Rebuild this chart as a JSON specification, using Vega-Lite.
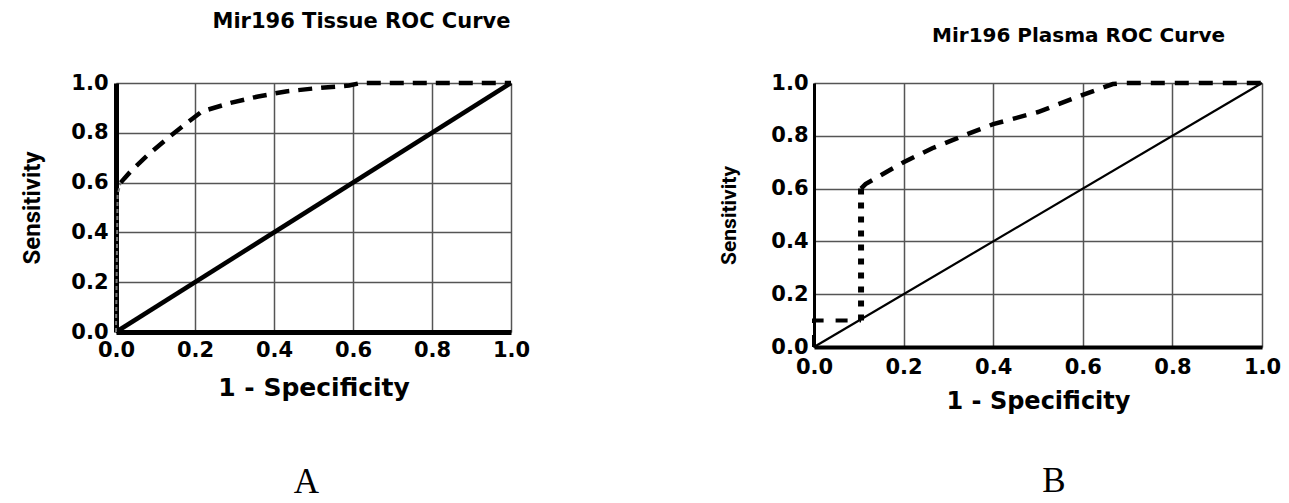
{
  "$schema": "https://vega.github.io/schema/vega-lite/v6.json",
  "background": "white",
  "padding": {"left": 20, "top": 10, "right": 0, "bottom": 0},
  "bounds": "flush",
  "spacing": 303,
  "config": {
    "view": {"stroke": null},
    "axis": {
      "labelFont": "DejaVu Sans", "labelFontWeight": "bold", "labelFontSize": 21, "labelColor": "black",
      "titleFont": "DejaVu Sans", "titleFontWeight": "bold", "titleColor": "black",
      "ticks": false, "tickSize": 0, "labelFlush": false, "labelOverlap": false,
      "gridColor": "#555", "gridWidth": 1.5, "gridOpacity": 1, "domainColor": "black"
    }
  },
  "hconcat": [
    {
      "width": 395, "height": 249,
      "data": {"values": [
        {"seg": "ref", "ord": 1, "fpr": 0, "tpr": 0},
        {"seg": "ref", "ord": 2, "fpr": 1, "tpr": 1},
        {"seg": "steep", "ord": 1, "fpr": 0, "tpr": 0},
        {"seg": "steep", "ord": 2, "fpr": 0.004, "tpr": 0.55},
        {"seg": "steep", "ord": 3, "fpr": 0.012, "tpr": 0.6},
        {"seg": "curve", "ord": 1, "fpr": 0.012, "tpr": 0.6},
        {"seg": "curve", "ord": 2, "fpr": 0.02, "tpr": 0.615},
        {"seg": "curve", "ord": 3, "fpr": 0.04, "tpr": 0.65},
        {"seg": "curve", "ord": 4, "fpr": 0.08, "tpr": 0.71},
        {"seg": "curve", "ord": 5, "fpr": 0.136, "tpr": 0.785},
        {"seg": "curve", "ord": 6, "fpr": 0.18, "tpr": 0.84},
        {"seg": "curve", "ord": 7, "fpr": 0.218, "tpr": 0.886},
        {"seg": "curve", "ord": 8, "fpr": 0.29, "tpr": 0.92},
        {"seg": "curve", "ord": 9, "fpr": 0.36, "tpr": 0.946},
        {"seg": "curve", "ord": 10, "fpr": 0.43, "tpr": 0.966},
        {"seg": "curve", "ord": 11, "fpr": 0.5, "tpr": 0.978},
        {"seg": "curve", "ord": 12, "fpr": 0.59, "tpr": 0.99},
        {"seg": "curve", "ord": 13, "fpr": 0.62, "tpr": 1.0},
        {"seg": "curve", "ord": 14, "fpr": 1, "tpr": 1}
      ]},
      "title": {"text": "A", "orient": "bottom", "frame": "group", "font": "Liberation Serif", "fontSize": 35, "fontWeight": "normal", "color": "black", "offset": 65, "dx": -7},
      "layer": [
        {
          "encoding": {
            "x": {"field": "fpr", "type": "quantitative", "scale": {"domain": [0, 1]},
              "axis": {"title": "1 - Specificity", "values": [0, 0.2, 0.4, 0.6, 0.8, 1], "format": ".1f", "grid": true, "domainWidth": 5, "labelPadding": 7, "titleFontSize": 25, "titlePadding": 15}},
            "y": {"field": "tpr", "type": "quantitative", "scale": {"domain": [0, 1]},
              "axis": {"title": "Sensitivity", "values": [0, 0.2, 0.4, 0.6, 0.8, 1], "format": ".1f", "grid": true, "domainWidth": 5, "labelPadding": 8, "titleFont": "Roboto", "titleFontSize": 24, "titlePadding": 26}},
            "order": {"field": "ord", "type": "quantitative"}
          },
          "layer": [
            {"transform": [{"filter": "datum.seg === 'ref'"}], "mark": {"type": "line", "color": "black", "strokeWidth": 4.5}},
            {"transform": [{"filter": "datum.seg === 'steep'"}], "mark": {"type": "line", "color": "#777", "strokeWidth": 2, "strokeDash": [4, 3]}},
            {"transform": [{"filter": "datum.seg === 'curve'"}], "mark": {"type": "line", "color": "black", "strokeWidth": 4.5, "strokeDash": [14, 9]}}
          ]
        },
        {
          "mark": {"type": "point", "opacity": 0},
          "encoding": {
            "x": {"field": "fpr", "type": "quantitative",
              "axis": {"orient": "top", "title": "Mir196 Tissue ROC Curve", "labels": false, "domain": false, "grid": false, "titleFontSize": 21, "titlePadding": 52, "titleX": 245}},
            "y": {"field": "tpr", "type": "quantitative", "axis": null}
          }
        }
      ],
      "resolve": {"axis": {"x": "independent", "y": "independent"}}
    },
    {
      "width": 448, "height": 264,
      "data": {"values": [
        {"seg": "ref", "ord": 1, "fpr": 0, "tpr": 0},
        {"seg": "ref", "ord": 2, "fpr": 1, "tpr": 1},
        {"seg": "low", "ord": 1, "fpr": 0, "tpr": 0},
        {"seg": "low", "ord": 2, "fpr": 0, "tpr": 0.1},
        {"seg": "low", "ord": 3, "fpr": 0.105, "tpr": 0.1},
        {"seg": "dot", "ord": 1, "fpr": 0.105, "tpr": 0.1},
        {"seg": "dot", "ord": 2, "fpr": 0.105, "tpr": 0.6},
        {"seg": "curve", "ord": 1, "fpr": 0.105, "tpr": 0.6},
        {"seg": "curve", "ord": 2, "fpr": 0.115, "tpr": 0.617},
        {"seg": "curve", "ord": 3, "fpr": 0.2, "tpr": 0.7},
        {"seg": "curve", "ord": 4, "fpr": 0.264, "tpr": 0.753},
        {"seg": "curve", "ord": 5, "fpr": 0.348, "tpr": 0.81},
        {"seg": "curve", "ord": 6, "fpr": 0.4, "tpr": 0.844},
        {"seg": "curve", "ord": 7, "fpr": 0.5, "tpr": 0.89},
        {"seg": "curve", "ord": 8, "fpr": 0.6, "tpr": 0.955},
        {"seg": "curve", "ord": 9, "fpr": 0.633, "tpr": 0.975},
        {"seg": "curve", "ord": 10, "fpr": 0.667, "tpr": 0.996},
        {"seg": "curve", "ord": 11, "fpr": 0.69, "tpr": 1.0},
        {"seg": "curve", "ord": 12, "fpr": 1, "tpr": 1}
      ]},
      "title": {"text": "B", "orient": "bottom", "frame": "group", "font": "Liberation Serif", "fontSize": 35, "fontWeight": "normal", "color": "black", "offset": 51, "dx": 16},
      "layer": [
        {
          "encoding": {
            "x": {"field": "fpr", "type": "quantitative", "scale": {"domain": [0, 1]},
              "axis": {"title": "1 - Specificity", "values": [0, 0.2, 0.4, 0.6, 0.8, 1], "format": ".1f", "grid": true, "domainWidth": 4, "labelPadding": 9, "titleFontSize": 24, "titlePadding": 12}},
            "y": {"field": "tpr", "type": "quantitative", "scale": {"domain": [0, 1]},
              "axis": {"title": "Sensitivity", "values": [0, 0.2, 0.4, 0.6, 0.8, 1], "format": ".1f", "grid": true, "domainWidth": 3, "labelPadding": 6, "titleFont": "Roboto", "titleFontSize": 21, "titlePadding": 31}},
            "order": {"field": "ord", "type": "quantitative"}
          },
          "layer": [
            {"transform": [{"filter": "datum.seg === 'ref'"}], "mark": {"type": "line", "color": "black", "strokeWidth": 2.2}},
            {"transform": [{"filter": "datum.seg === 'low'"}], "mark": {"type": "line", "color": "black", "strokeWidth": 4, "strokeDash": [12, 12]}},
            {"transform": [{"filter": "datum.seg === 'dot'"}], "mark": {"type": "line", "color": "black", "strokeWidth": 6, "strokeDash": [6, 8]}},
            {"transform": [{"filter": "datum.seg === 'curve'"}], "mark": {"type": "line", "color": "black", "strokeWidth": 4.5, "strokeDash": [14, 10]}}
          ]
        },
        {
          "mark": {"type": "point", "opacity": 0},
          "encoding": {
            "x": {"field": "fpr", "type": "quantitative",
              "axis": {"orient": "top", "title": "Mir196 Plasma ROC Curve", "labels": false, "domain": false, "grid": false, "titleFontSize": 20, "titlePadding": 38, "titleX": 264}},
            "y": {"field": "tpr", "type": "quantitative", "axis": null}
          }
        }
      ],
      "resolve": {"axis": {"x": "independent", "y": "independent"}}
    }
  ]
}
